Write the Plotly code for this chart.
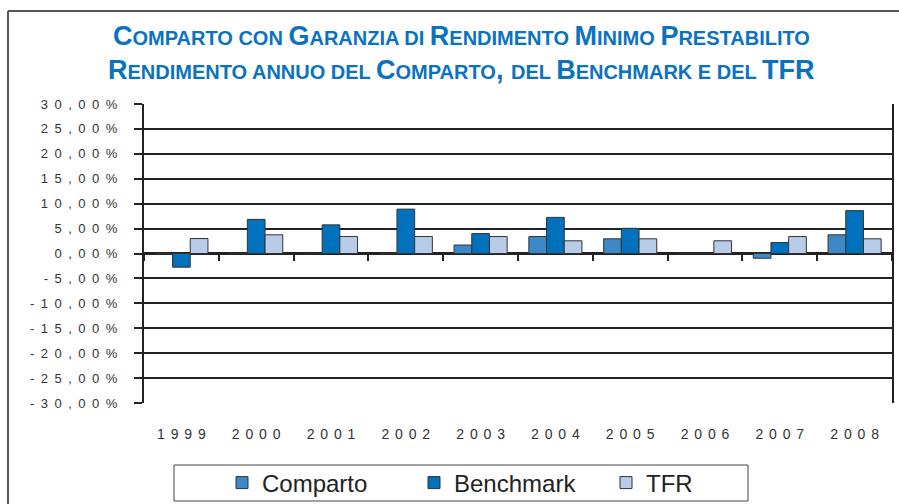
import plotly.graph_objects as go

years = ["1999", "2000", "2001", "2002", "2003", "2004", "2005", "2006", "2007", "2008"]
comparto = [0.0, 0.0, 0.0, 0.0, 1.7, 3.4, 2.95, 0.0, -0.95, 3.75]
benchmark = [-2.75, 6.85, 5.75, 8.9, 4.0, 7.25, 5.05, 0.0, 2.2, 8.6]
tfr = [3.0, 3.75, 3.4, 3.4, 3.4, 2.55, 2.95, 2.55, 3.4, 2.95]
y_ticks = [30, 25, 20, 15, 10, 5, 0, -5, -10, -15, -20, -25, -30]
y_labels = [f"{v},00%" for v in y_ticks]
series_names = ["Comparto", "Benchmark", "TFR"]
title_line1 = "Comparto con Garanzia di Rendimento Minimo Prestabilito"
title_line2 = "Rendimento annuo del Comparto, del Benchmark e del TFR"

colors = ["#3d88c9", "#0071bc", "#b8cce9"]
W, H = 899, 504
L, R, T, B = 144, 7, 104, 101
PW, PH = W - L - R, H - T - B


def px_x(p):
    return (p - L) / PW


def px_y(p):
    return (H - B - p) / PH


def spaced(s, sp):
    return sp.join(s)


def smallcaps(s, big=27, small=20):
    out = []
    run = ""
    mode = None
    for ch in s:
        m = "big" if (ch.isupper() or not ch.isalpha()) and ch != " " else "small"
        if ch == " ":
            m = mode or "small"
        c = ch.upper()
        if m != mode and run:
            out.append(f'<span style="font-size:{big if mode == "big" else small}px">{run}</span>')
            run = ""
        mode = m
        run += c
    if run:
        out.append(f'<span style="font-size:{big if mode == "big" else small}px">{run}</span>')
    return "".join(out)


fig = go.Figure()
for name, vals, col in zip(series_names, [comparto, benchmark, tfr], colors):
    fig.add_trace(go.Bar(
        x=years, y=vals, name=name,
        marker=dict(color=col, line=dict(color="#333333", width=1)),
    ))

tick_font = dict(family="Liberation Sans, Arial, sans-serif", size=13, color="#333333")
title_font = dict(family="Liberation Sans, Arial, sans-serif", size=27, color="#0a72c0", weight="bold")

fig.update_layout(
    width=W, height=H,
    margin=dict(l=L, r=R, t=T, b=B, pad=0, autoexpand=False),
    paper_bgcolor="white", plot_bgcolor="white",
    barmode="group", bargap=0.29, bargroupgap=0.0,
    showlegend=True,
    legend=dict(
        orientation="h", xref="container", yref="container",
        x=222 / W, xanchor="left", y=(H - 483) / H, yanchor="middle",
        font=dict(family="Liberation Sans, Arial, sans-serif", size=24, color="#222222"),
        entrywidth=147, entrywidthmode="pixels",
        bgcolor="rgba(0,0,0,0)", borderwidth=0,
    ),
    xaxis=dict(
        type="category", categoryorder="array", categoryarray=years,
        range=[-0.5, len(years) - 0.5],
        anchor="free", position=0.5,
        showline=False, showgrid=False, zeroline=False,
        ticks="outside", tickson="boundaries", ticklen=6, tickwidth=2, tickcolor="#222222",
        tickfont=dict(family="Liberation Sans, Arial, sans-serif", size=14, color="#333333"),
        tickmode="array", tickvals=years, ticktext=[spaced(y, "\u2004\u200a") for y in years],
        ticklabelstandoff=170,
    ),
    yaxis=dict(
        range=[-30, 30], tickmode="array", tickvals=y_ticks,
        ticktext=[spaced(l, "\u2002") for l in y_labels],
        showgrid=True, gridcolor="#222222", gridwidth=1.5,
        zeroline=True, zerolinecolor="#222222", zerolinewidth=2.5,
        showline=True, linecolor="#222222", linewidth=2, mirror=True,
        ticks="outside", ticklen=8, tickwidth=1.5, tickcolor="#222222",
        tickfont=tick_font, ticklabelstandoff=14,
    ),
    shapes=[
        dict(type="line", xref="paper", yref="paper", x0=px_x(8), x1=px_x(905), y0=px_y(11), y1=px_y(11),
             line=dict(color="#555555", width=2)),
        dict(type="line", xref="paper", yref="paper", x0=px_x(8), x1=px_x(8), y0=px_y(11), y1=px_y(510),
             line=dict(color="#555555", width=2)),
        dict(type="rect", xref="paper", yref="paper", x0=px_x(174), x1=px_x(748), y0=px_y(501), y1=px_y(465),
             line=dict(color="#444444", width=1)),
    ],
    annotations=[
        dict(text=smallcaps(title_line1), xref="paper", yref="paper", x=px_x(461), y=px_y(36),
             xanchor="center", yanchor="middle", showarrow=False, font=title_font),
        dict(text=smallcaps(title_line2), xref="paper", yref="paper", x=px_x(461), y=px_y(70),
             xanchor="center", yanchor="middle", showarrow=False, font=title_font),
    ],
)

fig.write_html("out.html", config={"displayModeBar": False},
               post_script="document.body.style.margin='0px';")
